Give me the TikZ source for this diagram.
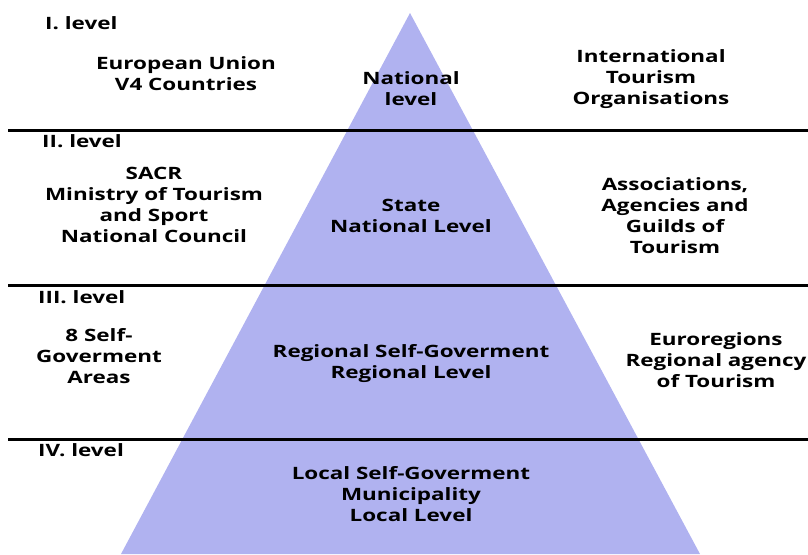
\documentclass[tikz,border=0pt]{standalone}
\usepackage{fontspec}
\setmainfont{Open Sans}[BoldFont={Open Sans Bold},BoldFeatures={FakeStretch=1.32}]
\usetikzlibrary{positioning}

\definecolor{pyrblue}{RGB}{176,178,240}

\begin{document}
\begin{tikzpicture}[x=1pt,y=-1pt,
    lbl/.style={font=\bfseries\fontsize{17}{21}\selectfont,align=center,inner sep=0pt},
    lvl/.style={font=\bfseries\fontsize{17}{21}\selectfont,anchor=west,inner sep=0pt}]
    \useasboundingbox (0,0) rectangle (808,554);
    % pyramid
    \fill[pyrblue] (410,13) -- (700,554) -- (121,554) -- cycle;
    % level separators
    \foreach \y in {130,285,439}
        \draw[line width=3pt] (8,\y) -- (808,\y);
    % level titles
    \node[lvl] (lvlone) at (45,23) {I. level};
    \node[lvl] (lvltwo) at (42,141) {II. level};
    \node[lvl] (lvlthree) at (38,297) {III. level};
    \node[lvl] (lvlfour) at (38,450) {IV. level};
    % level I
    \node[lbl] (eu) at (186,74) {European Union\\V4 Countries};
    \node[lbl] (national) at (411,89) {National\\level};
    \node[lbl] (intl) at (651,79) {International\\Tourism\\Organisations};
    % level II
    \node[lbl] (sacr) at (154,205) {SACR\\Ministry of Tourism\\and Sport\\National Council};
    \node[lbl] (state) at (411,216) {State\\National Level};
    \node[lbl] (assoc) at (675,216) {Associations,\\Agencies and\\Guilds of\\Tourism};
    % level III
    \node[lbl] (areas) at (99,356) {8 Self-\\Goverment\\Areas};
    \node[lbl] (regional) at (411,364) {Regional Self-Goverment\\Regional Level};
    \node[lbl] (euroreg) at (716,360) {Euroregions\\Regional agency\\of Tourism};
    % level IV
    \node[lbl] (local) at (411,494) {Local Self-Goverment\\Municipality\\Local Level};
\end{tikzpicture}
\end{document}
